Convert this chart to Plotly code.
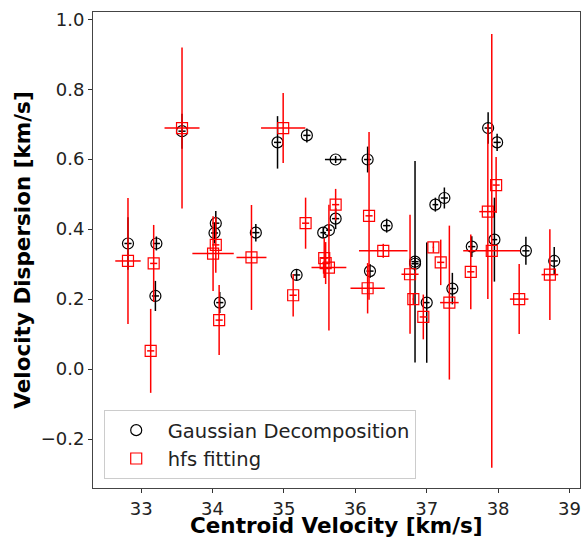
import plotly.graph_objects as go

# Gaussian Decomposition (black circles)
gd_x = [32.815, 33.213, 33.199, 33.572, 34.045, 34.027, 34.101, 34.606, 34.910, 35.177,
        35.321, 35.550, 35.630, 35.724, 35.724, 36.172, 36.205, 36.439, 36.836, 36.836,
        37.000, 37.121, 37.247, 37.359, 37.631, 37.860, 37.986, 37.948, 38.389, 38.786]
gd_y = [0.359, 0.359, 0.209, 0.680, 0.417, 0.389, 0.190, 0.390, 0.648, 0.269,
        0.668, 0.390, 0.397, 0.430, 0.599, 0.599, 0.280, 0.410, 0.307, 0.301,
        0.190, 0.470, 0.489, 0.230, 0.350, 0.689, 0.648, 0.370, 0.338, 0.309]
gd_xerr = [0.05, 0.05, 0.05, 0.05, 0.05, 0.05, 0.05, 0.05, 0.05, 0.05,
           0.05, 0.04, 0.04, 0.05, 0.15, 0.05, 0.05, 0.05, 0.05, 0.05,
           0.04, 0.04, 0.05, 0.05, 0.05, 0.05, 0.05, 0.04, 0.05, 0.05]
gd_yerr = [0.075, 0.020, 0.043, 0.050, 0.035, 0.030, 0.030, 0.025, 0.075, 0.015,
           0.020, 0.015, 0.015, 0.030, 0.010, 0.037, 0.020, 0.020, 0.288, 0.020,
           0.172, 0.020, 0.030, 0.045, 0.030, 0.045, 0.025, 0.120, 0.040, 0.040]

# hfs fitting (red squares)
hfs_x = [32.815, 33.175, 33.133, 33.572, 34.007, 34.045, 34.092, 34.545, 34.989, 35.303,
         35.129, 35.724, 35.564, 35.584, 35.630, 36.192, 36.172, 36.391, 37.093, 37.196,
         36.766, 36.812, 36.952, 37.317, 37.617, 37.911, 37.856, 37.972, 38.295, 38.725]
hfs_y = [0.309, 0.302, 0.052, 0.689, 0.330, 0.355, 0.140, 0.319, 0.689, 0.417,
         0.211, 0.470, 0.317, 0.303, 0.290, 0.438, 0.231, 0.338, 0.348, 0.305,
         0.271, 0.200, 0.149, 0.190, 0.278, 0.338, 0.450, 0.526, 0.200, 0.270]
hfs_xerr = [0.178, 0.05, 0.05, 0.245, 0.290, 0.05, 0.05, 0.210, 0.310, 0.05,
            0.05, 0.05, 0.05, 0.05, 0.244, 0.05, 0.240, 0.340, 0.01, 0.05,
            0.120, 0.01, 0.05, 0.130, 0.05, 0.400, 0.120, 0.05, 0.130, 0.117]
hfs_yerr = [0.180, 0.110, 0.120, 0.230, 0.107, 0.080, 0.100, 0.150, 0.100, 0.073,
            0.061, 0.045, 0.057, 0.060, 0.180, 0.240, 0.072, 0.020, 0.015, 0.065,
            0.170, 0.015, 0.064, 0.220, 0.107, 0.620, 0.250, 0.080, 0.100, 0.130]

FONT = "DejaVu Sans"

fig = go.Figure()
fig.add_trace(go.Scatter(
    x=gd_x, y=gd_y, mode="markers", name="Gaussian Decomposition",
    marker=dict(symbol="circle-open", size=11, color="black", line=dict(width=1.2, color="black")),
    error_x=dict(type="data", array=gd_xerr, visible=True, color="black", thickness=1.5, width=0),
    error_y=dict(type="data", array=gd_yerr, visible=True, color="black", thickness=1.5, width=0),
))
fig.add_trace(go.Scatter(
    x=hfs_x, y=hfs_y, mode="markers", name="hfs fitting",
    marker=dict(symbol="square-open", size=11, color="red", line=dict(width=1.2, color="red")),
    error_x=dict(type="data", array=hfs_xerr, visible=True, color="red", thickness=1.5, width=0),
    error_y=dict(type="data", array=hfs_yerr, visible=True, color="red", thickness=1.5, width=0),
))

fig.update_layout(
    width=581, height=539,
    margin=dict(l=93, r=1, t=12, b=51),
    paper_bgcolor="white", plot_bgcolor="white",
    font=dict(family=FONT, size=18, color="#222222"),
    showlegend=True,
    legend=dict(
        x=0.022, y=0.019, xanchor="left", yanchor="bottom",
        bgcolor="rgba(255,255,255,0.8)", bordercolor="#cccccc", borderwidth=1,
        font=dict(family=FONT, size=19.5, color="#222222"),
        itemwidth=53,
    ),
    annotations=[dict(
        text="Centroid Velocity [km/s]", xref="paper", yref="paper",
        x=0.5, y=-0.078, xanchor="center", yanchor="middle", showarrow=False,
        borderpad=0,
        font=dict(family=FONT, size=21.5, color="black", weight="bold"),
    )],
)
fig.update_xaxes(
    range=[32.325, 39.147], tickmode="array", tickvals=[33, 34, 35, 36, 37, 38, 39],
    ticks="outside", ticklen=4, tickcolor="#333333", ticklabeloverflow="allow",
    showline=True, linecolor="#444444", linewidth=1, mirror=True,
    showgrid=False, zeroline=False,
)
fig.update_yaxes(
    range=[-0.340, 1.0207], tickmode="array", tickvals=[-0.2, 0.0, 0.2, 0.4, 0.6, 0.8, 1.0],
    tickformat=".1f",
    ticks="outside", ticklen=4, tickcolor="#333333",
    showline=True, linecolor="#444444", linewidth=1, mirror=True,
    showgrid=False, zeroline=False,
    title=dict(text="Velocity Dispersion [km/s]", standoff=4,
               font=dict(family=FONT, size=21.5, color="black", weight="bold")),
)

fig.write_html("out.html")
